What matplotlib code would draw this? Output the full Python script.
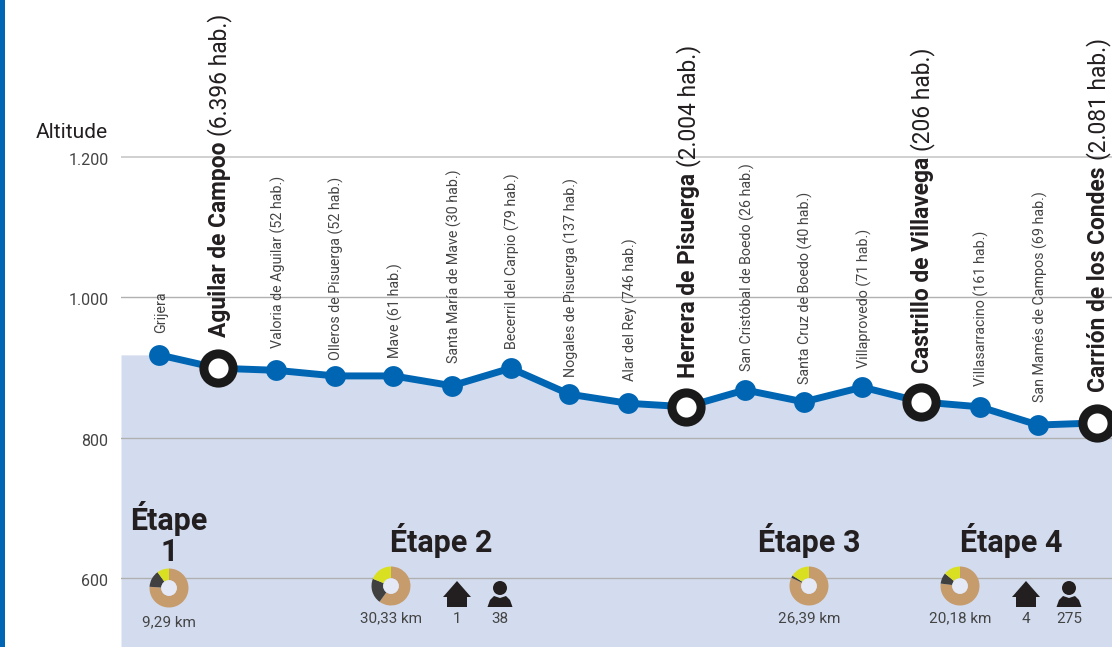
import matplotlib
matplotlib.use('Agg')
import matplotlib.pyplot as plt
from matplotlib.patches import Rectangle, Polygon, Circle
from matplotlib.transforms import ScaledTranslation

W, H = 1112, 647
FONT = ['Roboto', 'DejaVu Sans']
BLUE = '#0066b3'
INK = '#231f20'
GREY = '#444444'

# Data
towns = ['Grijera', 'Aguilar de Campoo', 'Valoria de Aguilar', 'Olleros de Pisuerga', 'Mave',
         'Santa María de Mave', 'Becerril del Carpio', 'Nogales de Pisuerga', 'Alar del Rey',
         'Herrera de Pisuerga', 'San Cristóbal de Boedo', 'Santa Cruz de Boedo', 'Villaprovedo',
         'Castrillo de Villavega', 'Villasarracino', 'San Mamés de Campos', 'Carrión de los Condes']
people = ['', '6.396', '52', '52', '61', '30', '79', '137', '746', '2.004', '26', '40', '71',
          '206', '161', '69', '2.081']
altitude = [918, 899, 896, 888, 888, 874, 899, 862, 849, 844, 868, 851, 872, 851, 844, 818, 821]
major = [1, 9, 13, 16]
y_ticks = [600, 800, 1000, 1200]
y_labels = ['600', '800', '1.000', '1.200']

stages = ['Étape 1', 'Étape 2', 'Étape 3', 'Étape 4']
stage_km = ['9,29 km', '30,33 km', '26,39 km', '20,18 km']
surface_tan = [76, 60, 82, 77]
surface_dark = [14, 21, 2, 9]
surface_yellow = [10, 19, 16, 14]
stage_houses = ['', '1', '', '4']
stage_people = ['', '38', '', '275']

# Label gaps above each stop, in pixels
label_gap = [22, 31, 22, 16, 18, 23, 19, 17, 22, 29, 19, 18, 19, 29, 21, 23, 31]
stage_x = [169, 391, 809, 960]
title_x = [169, 441, 809, 1011]
icon_x = [None, (457, 500), None, (1026, 1069)]

fig = plt.figure(figsize=(W / 100, H / 100), dpi=100, facecolor='white')
fig.add_artist(Rectangle((0, 0), 5 / W, 1, transform=fig.transFigure, color=BLUE, lw=0))

# Profile
ax = fig.add_axes([121 / W, 0, 1 - 121 / W, 1])
ax.set_xlim(-0.648, 16.26)
ax.set_ylim(501.7, 1423.7)
stops = list(range(len(altitude)))
ax.fill_between([-0.648] + stops + [16.26], [altitude[0]] + altitude + [altitude[-1]], 400,
                color='#d3dcef', lw=0, zorder=1)
for v in y_ticks:
    ax.axhline(v, color='#c8c8c8' if v == 1200 else '#b0b0b0', lw=1.2 if v == 1200 else 1.0, zorder=2)
ax.plot(stops, altitude, color=BLUE, lw=5, zorder=3, solid_capstyle='round')
ax.plot(stops, altitude, 'o', color=BLUE, ms=15, mew=0, zorder=4)
ax.plot([stops[i] for i in major], [altitude[i] for i in major], 'o', mfc='white', mec='#1a1a1a',
        ms=21, mew=6.5, zorder=5)
for s in ax.spines.values():
    s.set_visible(False)
ax.set_xticks([])
ax.set_yticks(y_ticks)
ax.set_yticklabels(y_labels, family=FONT, fontsize=11.5, color=GREY)
ax.tick_params(axis='y', length=0, pad=9)
ax.patch.set_alpha(0)
# tick labels sit a little under their lines
for lab in ax.get_yticklabels():
    lab.set_transform(lab.get_transform() + ScaledTranslation(0, -2 / 100, fig.dpi_scale_trans))

# Overlay in pixel coordinates for the annotations
ov = fig.add_axes([0, 0, 1, 1], facecolor='none')
ov.set_xlim(0, W)
ov.set_ylim(H, 0)
ov.axis('off')
ov.text(108, 132, 'Altitude', family=FONT, fontsize=15, color=INK, ha='right', va='center')

fig.canvas.draw()
renderer = fig.canvas.get_renderer()
for i, name in enumerate(towns):
    x_px, y_px = ax.transData.transform((stops[i], altitude[i]))
    y_px = H - y_px
    x_px += 2
    y0 = y_px - label_gap[i]
    if i in major:
        t = ov.text(x_px, y0, name, family=FONT, weight='bold', fontsize=16.4, color=INK,
                    rotation=90, ha='center', va='bottom')
        top = t.get_window_extent(renderer).y1
        ov.text(x_px, H - top - 6, '(%s hab.)' % people[i], family=FONT, fontsize=16.4, color=INK,
                rotation=90, ha='center', va='bottom')
    else:
        label = name if not people[i] else '%s (%s hab.)' % (name, people[i])
        ov.text(x_px, y0, label, family=FONT, fontsize=10.3, color=GREY,
                rotation=90, ha='center', va='bottom')


def house(cx, cy):
    ov.add_patch(Polygon([(cx - 14, cy + 3), (cx, cy - 13), (cx + 14, cy + 3), (cx + 10, cy + 3),
                          (cx + 10, cy + 13), (cx - 10, cy + 13), (cx - 10, cy + 3)],
                         color=INK, lw=0))


def person(cx, cy):
    ov.add_patch(Circle((cx, cy - 6), 7, color=INK, lw=0))
    ov.add_patch(Polygon([(cx - 12.5, cy + 13), (cx - 10, cy + 6), (cx - 6, cy + 2), (cx, cy + 4),
                          (cx + 6, cy + 2), (cx + 10, cy + 6), (cx + 12.5, cy + 13)], color=INK, lw=0))


for i, title in enumerate(stages):
    cx = stage_x[i]
    cy = 588 if i == 0 else 586
    if i == 0:
        ov.text(title_x[i], 534, 'Étape\n1', family=FONT, weight='bold', fontsize=22, color=INK,
                ha='center', va='center', linespacing=1.05)
    else:
        ov.text(title_x[i], 541, title, family=FONT, weight='bold', fontsize=22, color=INK,
                ha='center', va='center')
    r = 19.5
    pie = fig.add_axes([(cx - r) / W, 1 - (cy + r) / H, 2 * r / W, 2 * r / H])
    pie.pie([surface_tan[i], surface_dark[i], surface_yellow[i]],
            colors=['#c69c6d', '#404040', '#d9e021'], startangle=90, counterclock=False,
            radius=1, wedgeprops=dict(width=0.6))
    pie.add_patch(Circle((0, 0), 0.4, color='#e4e9f5', lw=0))
    pie.set_xlim(-1, 1)
    pie.set_ylim(-1, 1)
    pie.axis('off')
    ov.text(cx, 622 if i == 0 else 618, stage_km[i], family=FONT, fontsize=11, color=GREY,
            ha='center', va='center')
    if icon_x[i]:
        hx, px = icon_x[i]
        house(hx, 594)
        person(px, 594)
        ov.text(hx, 619, stage_houses[i], family=FONT, fontsize=11, color=GREY, ha='center', va='center')
        ov.text(px, 619, stage_people[i], family=FONT, fontsize=11, color=GREY, ha='center', va='center')

fig.savefig('out.png', dpi=100)
